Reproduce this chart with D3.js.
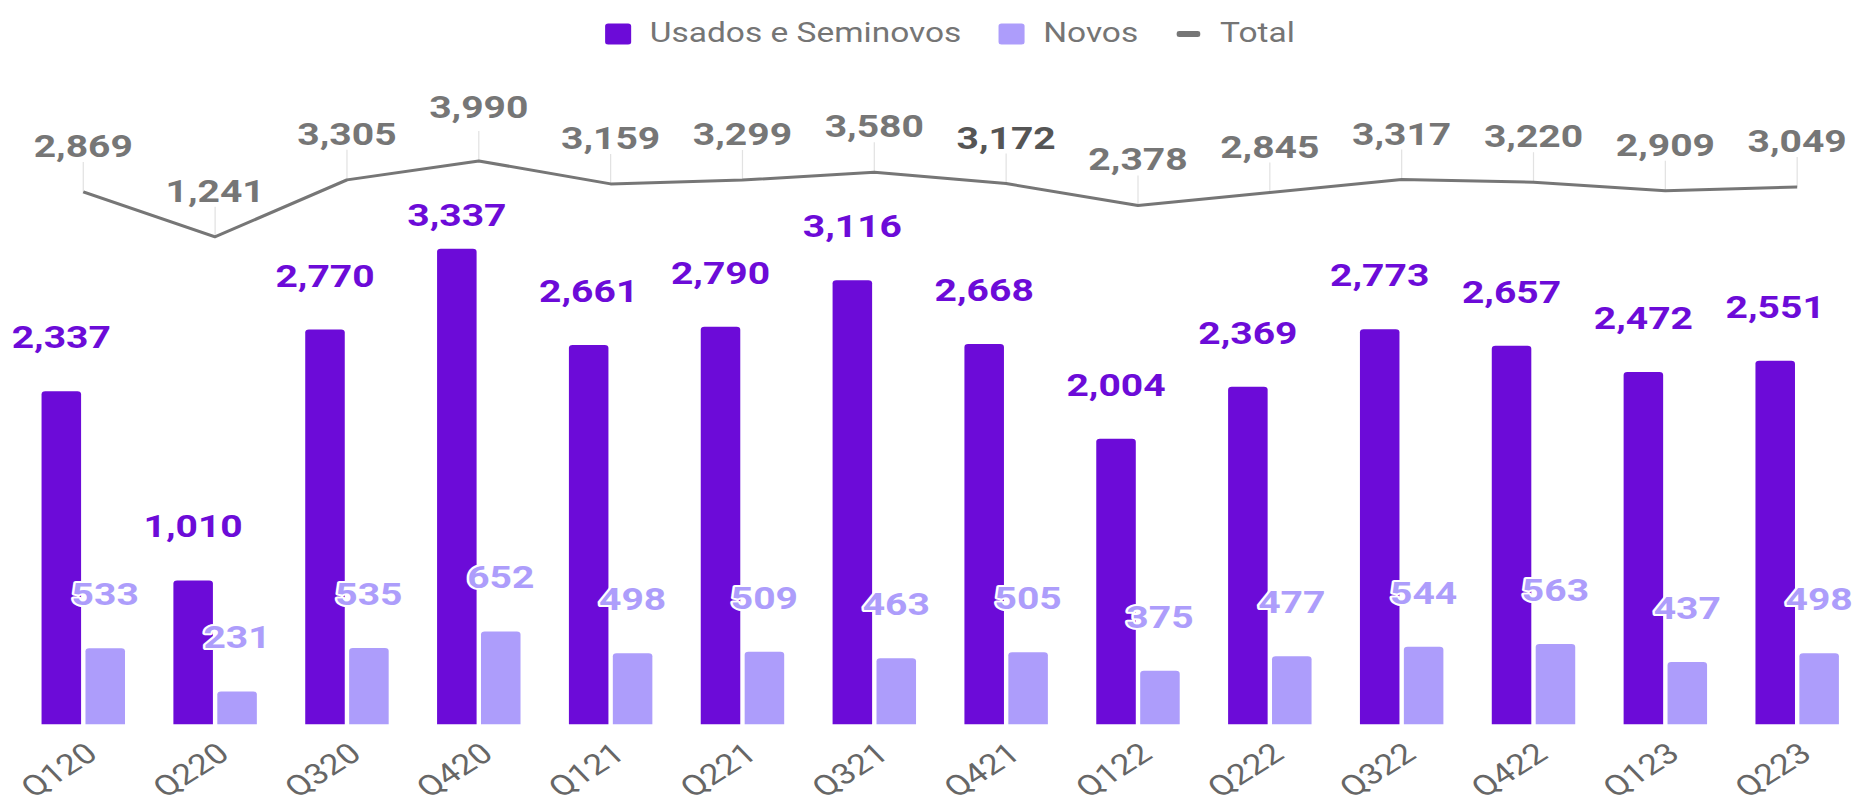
<!DOCTYPE html>
<html>
<head>
<meta charset="utf-8">
<script src="https://cdn.jsdelivr.net/npm/d3@7"></script>
<style>
  html, body { margin: 0; padding: 0; background: #fff; }
  svg { display: block; }
  text { font-family: Roboto, "Noto Sans", sans-serif; }
</style>
</head>
<body>
<div id="chart"></div>
<script>
const quarters = ['Q120', 'Q220', 'Q320', 'Q420', 'Q121', 'Q221', 'Q321', 'Q421', 'Q122', 'Q222', 'Q322', 'Q422', 'Q123', 'Q223'];
const usados = [2337, 1010, 2770, 3337, 2661, 2790, 3116, 2668, 2004, 2369, 2773, 2657, 2472, 2551];
const novos = [533, 231, 535, 652, 498, 509, 463, 505, 375, 477, 544, 563, 437, 498];
const total = [2869, 1241, 3305, 3990, 3159, 3299, 3580, 3172, 2378, 2845, 3317, 3220, 2909, 3049];
const seriesNames = ['Usados e Seminovos', 'Novos', 'Total'];
const highlighted = 'Q421';

const PURPLE = '#6c0bd8', LILAC = '#ad9dfb', GREY = '#767676';

// the source picture is stretched sideways, so draw narrow and stretch the svg
const W = 1854, H = 807, STRETCH = 1.24;
const VW = W / STRETCH;

const svg = d3.select('#chart').append('svg')
  .attr('width', W)
  .attr('height', H)
  .attr('viewBox', `0 0 ${VW} ${H}`)
  .attr('preserveAspectRatio', 'none');

const x0 = d3.scaleBand().domain(quarters).range([14, 1502.5]).paddingInner(0.367).paddingOuter(0.1835);
const x1 = d3.scaleBand().domain(['usados', 'novos']).range([0, x0.bandwidth()]).paddingInner(0.1);
const y = d3.scaleLinear().domain([0, 4000]).range([724.3, 154.3]);
const yTotal = d3.scaleLinear().domain([0, 4000]).range([271, 160.7]);

const rows = quarters.map((q, i) => ({q, usados: usados[i], novos: novos[i], total: total[i]}));

function topRounded(x, yy, w, h, r) {
  r = Math.min(r, h, w / 2);
  return `M${x},${yy + h}V${yy + r}Q${x},${yy} ${x + r},${yy}H${x + w - r}Q${x + w},${yy} ${x + w},${yy + r}V${yy + h}Z`;
}

// bars
const groups = svg.append('g').selectAll('g')
  .data(rows)
  .enter().append('g')
  .attr('transform', d => `translate(${x0(d.q)},0)`);

groups.append('path')
  .attr('fill', PURPLE)
  .attr('d', d => topRounded(x1('usados'), y(d.usados), x1.bandwidth(), y(0) - y(d.usados), 3));

groups.append('path')
  .attr('fill', LILAC)
  .attr('d', d => topRounded(x1('novos'), y(d.novos), x1.bandwidth(), y(0) - y(d.novos), 3));

// x axis labels
const cx = q => x0(q) + x0.bandwidth() / 2;

svg.append('g').selectAll('text')
  .data(quarters)
  .enter().append('text')
  .attr('transform', q => `translate(${cx(q) + 13},757) rotate(-38)`)
  .attr('text-anchor', 'end')
  .attr('font-size', 28.5)
  .attr('fill', '#666')
  .text(q => q);

// total line + leaders
const line = d3.line()
  .x(d => cx(d.q))
  .y(d => yTotal(d.total));

svg.append('g').selectAll('line')
  .data(rows)
  .enter().append('line')
  .attr('x1', d => cx(d.q)).attr('x2', d => cx(d.q))
  .attr('y1', d => yTotal(d.total) - 30)
  .attr('y2', d => yTotal(d.total))
  .attr('stroke', '#e2e2e2')
  .attr('stroke-width', 1);

svg.append('path')
  .datum(rows)
  .attr('fill', 'none')
  .attr('stroke', GREY)
  .attr('stroke-width', 3)
  .attr('stroke-linejoin', 'round')
  .attr('d', line);

const fmt = d3.format(',');
const maxTotal = d3.max(total);

svg.append('g').selectAll('text')
  .data(rows)
  .enter().append('text')
  .attr('x', d => cx(d.q))
  .attr('y', d => yTotal(d.total) - 35 - (d.total === maxTotal ? 8 : 0))
  .attr('text-anchor', 'middle')
  .attr('font-size', 31.5)
  .attr('font-weight', 700)
  .attr('fill', d => d.q === highlighted ? '#555' : GREY)
  .attr('stroke', '#fff').attr('stroke-width', 4).attr('paint-order', 'stroke').attr('stroke-linejoin', 'round')
  .text(d => fmt(d.total));

// bar labels
groups.append('text')
  .attr('x', x1('usados') + x1.bandwidth() / 2)
  .attr('y', d => Math.max(y(d.usados) - 43, yTotal(d.total) + 65))
  .attr('text-anchor', 'middle')
  .attr('font-size', 31.5)
  .attr('font-weight', 700)
  .attr('fill', PURPLE)
  .attr('stroke', '#fff').attr('stroke-width', 4).attr('paint-order', 'stroke').attr('stroke-linejoin', 'round')
  .text(d => fmt(d.usados));

groups.append('text')
  .attr('x', x1('novos') + x1.bandwidth() / 2)
  .attr('y', d => y(d.novos) - 43)
  .attr('text-anchor', 'middle')
  .attr('font-size', 31.5)
  .attr('font-weight', 700)
  .attr('fill', LILAC)
  .attr('stroke', '#fff').attr('stroke-width', 4).attr('paint-order', 'stroke').attr('stroke-linejoin', 'round')
  .text(d => fmt(d.novos));

// legend
const legend = svg.append('g').attr('transform', 'translate(488,0)');
const colors = [PURPLE, LILAC, GREY];
let lx = 0;
seriesNames.forEach((name, i) => {
  const item = legend.append('g').attr('transform', `translate(${lx},0)`);
  if (i < 2) {
    item.append('rect')
      .attr('x', 0).attr('y', 23.5).attr('width', 21).attr('height', 21).attr('rx', 2.5)
      .attr('fill', colors[i]);
  } else {
    item.append('rect')
      .attr('x', 1).attr('y', 31).attr('width', 19).attr('height', 6).attr('rx', 2)
      .attr('fill', colors[i]);
  }
  const t = item.append('text')
    .attr('x', 36).attr('y', 41.7)
    .attr('font-size', 27)
    .attr('fill', '#757575')
    .text(name);
  lx += 36 + t.node().getComputedTextLength() + 30;
});
</script>
</body>
</html>
